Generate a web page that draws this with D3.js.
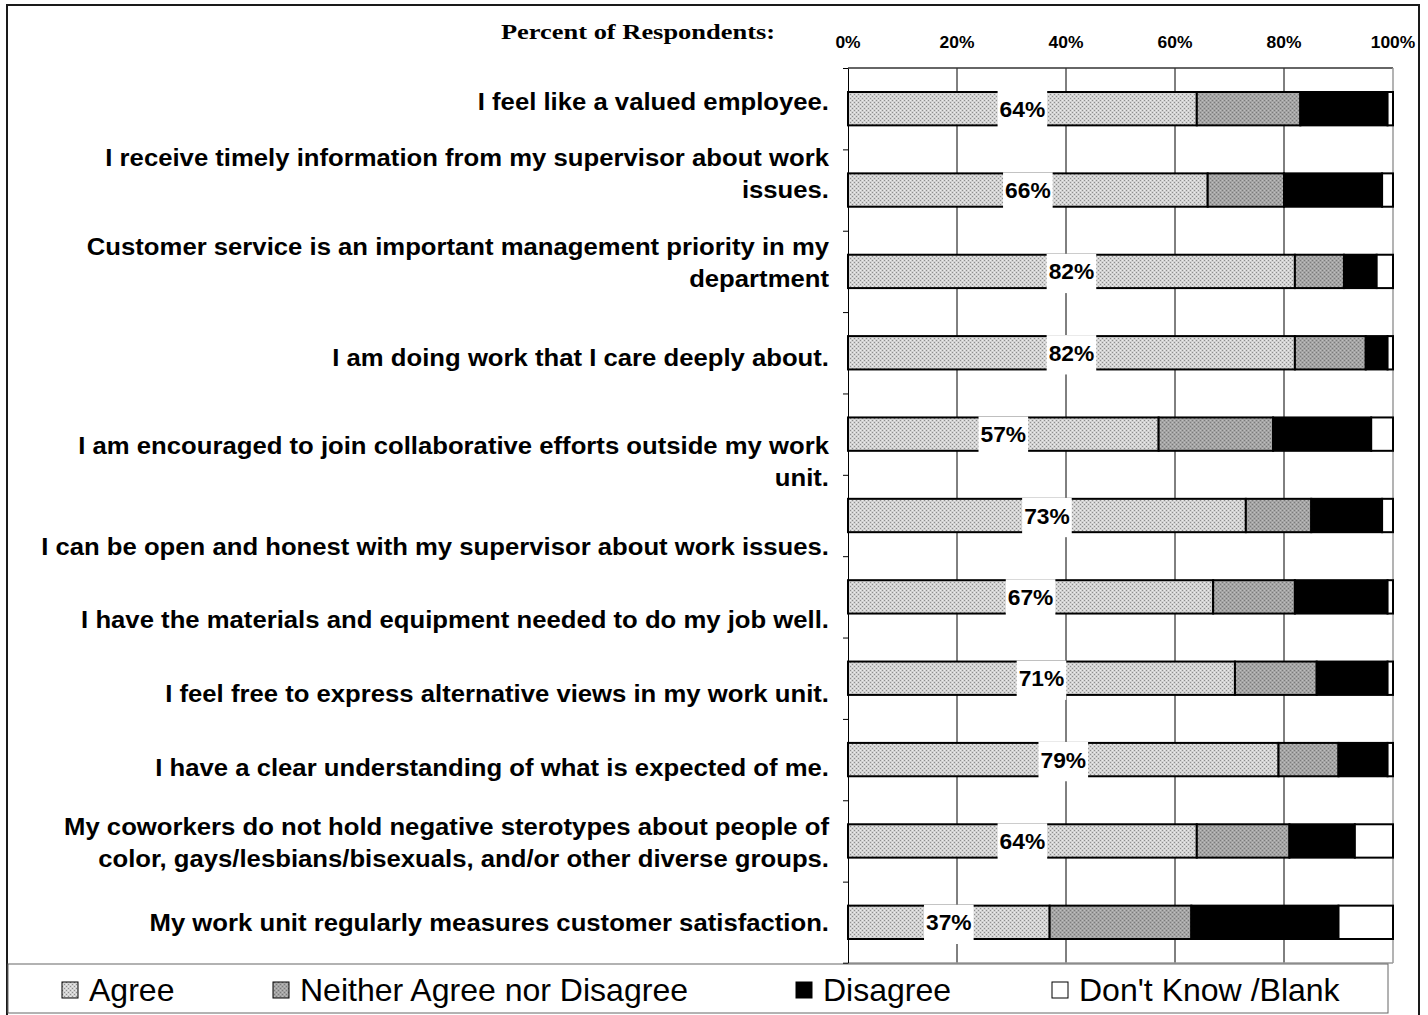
<!DOCTYPE html>
<html><head><meta charset="utf-8">
<script src="https://cdn.jsdelivr.net/npm/d3@7"></script>
<style>body{margin:0;background:#fff}svg{display:block}</style>
</head><body>
<svg id="c" width="1428" height="1015"></svg>
<script>
// ---------- data ----------
const categories = [
  ["I feel like a valued employee."],
  ["I receive timely information from my supervisor about work", "issues."],
  ["Customer service is an important management priority in my", "department"],
  ["I am doing work that I care deeply about."],
  ["I am encouraged to join collaborative efforts outside my work", "unit."],
  ["I can be open and honest with my supervisor about work issues."],
  ["I have the materials and equipment needed to do my job well."],
  ["I feel free to express alternative views in my work unit."],
  ["I have a clear understanding of what is expected of me."],
  ["My coworkers do not hold negative sterotypes about people of", "color, gays/lesbians/bisexuals, and/or other diverse groups."],
  ["My work unit regularly measures customer satisfaction."]
];
const agree    = [64, 66, 82, 82, 57, 73, 67, 71, 79, 64, 37];
const neither  = [19, 14,  9, 13, 21, 12, 15, 15, 11, 17, 26];
const disagree = [16, 18,  6,  4, 18, 13, 17, 13,  9, 12, 27];
const dontKnow = [ 1,  2,  3,  1,  4,  2,  1,  1,  1,  7, 10];
const seriesNames = ["Agree", "Neither Agree nor Disagree", "Disagree", "Don't Know /Blank"];
const tickValues = [0, 20, 40, 60, 80, 100];
const tickLabels = ["0%", "20%", "40%", "60%", "80%", "100%"];
const axisTitle = "Percent of Respondents:";

// ---------- layout / style ----------
const plot = {left: 848, right: 1393, top: 68, bottom: 963};
const labelShift = [-7, -17, -9, 5, 27, 31, 23, 15, 8, 2, 0]; // label block offsets vs band centre
const legendX = [62, 273, 796, 1052];
const SANS = "Liberation Sans, Arial, sans-serif";

const svg = d3.select("#c");
const defs = svg.append("defs");

function dotPattern(id, base, dark, mid) {
  const p = defs.append("pattern").attr("id", id).attr("patternUnits", "userSpaceOnUse")
    .attr("width", 4).attr("height", 4);
  p.append("rect").attr("width", 4).attr("height", 4).attr("fill", base);
  [[0,0],[2,2]].forEach(([x,y]) => p.append("rect").attr("x", x).attr("y", y).attr("width", 1).attr("height", 1).attr("fill", dark));
  [[2,0],[0,2]].forEach(([x,y]) => p.append("rect").attr("x", x).attr("y", y).attr("width", 1).attr("height", 1).attr("fill", mid));
}
dotPattern("pAgree", "#d2d2d2", "#8e8e8e", "#ececec");
dotPattern("pNeither", "#a4a4a4", "#7a7a7a", "#bebebe");
const fills = ["url(#pAgree)", "url(#pNeither)", "#000", "#fff"];

// stretched text helper
function sText(parent, x, y, str, anchor, font, size, weight, sx) {
  const g = parent.append("g").attr("transform", `translate(${x},${y})`);
  const t = g.append("text").attr("transform", `scale(${sx},1)`)
    .attr("text-anchor", anchor).attr("font-family", font)
    .attr("font-size", size).attr("font-weight", weight).attr("fill", "#000").text(str);
  return t;
}

// outer frame
svg.append("rect").attr("x", 7).attr("y", 5).attr("width", 1412).attr("height", 1020)
  .attr("fill", "none").attr("stroke", "#1a1a1a").attr("stroke-width", 2);

// scales
const x = d3.scaleLinear().domain([0, 100]).range([plot.left, plot.right]);
const y = d3.scaleBand().domain(d3.range(categories.length)).range([plot.top, plot.bottom]).padding(0);
const barH = y.bandwidth() * 0.41;

// gridlines
svg.append("g").selectAll("line").data(tickValues.slice(1, -1)).join("line")
  .attr("x1", d => x(d)).attr("x2", d => x(d))
  .attr("y1", plot.top).attr("y2", plot.bottom)
  .attr("stroke", "#000").attr("stroke-width", 1);

// plot frame
svg.append("line").attr("x1", plot.left).attr("x2", plot.right).attr("y1", plot.top).attr("y2", plot.top)
  .attr("stroke", "#333").attr("stroke-width", 1.5);
svg.append("line").attr("x1", plot.right).attr("x2", plot.right).attr("y1", plot.top).attr("y2", plot.bottom)
  .attr("stroke", "#9a9a9a").attr("stroke-width", 1.5);
svg.append("line").attr("x1", plot.left - 5).attr("x2", plot.right).attr("y1", plot.bottom).attr("y2", plot.bottom)
  .attr("stroke", "#9a9a9a").attr("stroke-width", 1.5);

// left axis with boundary ticks
const yEdge = d3.scaleLinear().domain([0, categories.length]).range([plot.top, plot.bottom]);
const leftAxis = d3.axisLeft(yEdge).tickValues(d3.range(categories.length + 1)).tickFormat("").tickSizeInner(5).tickSizeOuter(0);
const la = svg.append("g").attr("transform", `translate(${plot.left},0)`).call(leftAxis);
la.select(".domain").attr("stroke", "#000").attr("stroke-width", 1);
la.selectAll(".tick line").attr("stroke", "#000");

// stacked bars
const stackData = categories.map((c, i) => ({i, vals: [agree[i], neither[i], disagree[i], dontKnow[i]]}));
const barG = svg.append("g");
stackData.forEach(row => {
  let cum = 0;
  const cy = y(row.i) + y.bandwidth() / 2;
  row.vals.forEach((v, s) => {
    barG.append("rect")
      .attr("x", x(cum)).attr("width", x(cum + v) - x(cum))
      .attr("y", cy - barH / 2).attr("height", barH)
      .attr("fill", fills[s]).attr("stroke", "#000").attr("stroke-width", 2);
    cum += v;
  });
});

// value labels on Agree segments
const lblG = svg.append("g");
stackData.forEach(row => {
  const cx = x(agree[row.i] / 2);
  const cy = y(row.i) + y.bandwidth() / 2;
  const box = lblG.append("rect").attr("fill", "#fff");
  const t = sText(lblG, cx, cy + 8, agree[row.i] + "%", "middle", SANS, 21.5, "bold", 1.06);
  const w = t.node().getComputedTextLength() * 1.06 + 4;
  box.attr("x", cx - w / 2).attr("width", w).attr("y", cy - barH / 2 - 1).attr("height", barH + 6);
});

// category labels
const catG = svg.append("g");
categories.forEach((lines, i) => {
  const cy = y(i) + y.bandwidth() / 2 + labelShift[i];
  const lh = 32;
  lines.forEach((ln, k) => {
    const ly = cy + (k - (lines.length - 1) / 2) * lh + 8.5;
    sText(catG, 829, ly, ln, "end", SANS, 24.4, "bold", 1.053);
  });
});

// top tick labels
tickValues.forEach((v, k) => {
  sText(svg, x(v), 47.5, tickLabels[k], "middle", SANS, 16, "bold", 1.09);
});

// title
sText(svg, 638, 39, axisTitle, "middle", "Liberation Serif, Times New Roman, serif", 21, "bold", 1.26);

// legend
svg.append("rect").attr("x", 8).attr("y", 964).attr("width", 1380).attr("height", 49)
  .attr("fill", "#fff").attr("stroke", "#666").attr("stroke-width", 1);
seriesNames.forEach((name, s) => {
  const lx = legendX[s];
  svg.append("rect").attr("x", lx).attr("y", 982).attr("width", 16).attr("height", 16)
    .attr("fill", fills[s]).attr("stroke", "#000").attr("stroke-width", 1);
  sText(svg, lx + 27, 1001, name, "start", SANS, 30.5, "normal", 1.05);
});
</script>
</body></html>
